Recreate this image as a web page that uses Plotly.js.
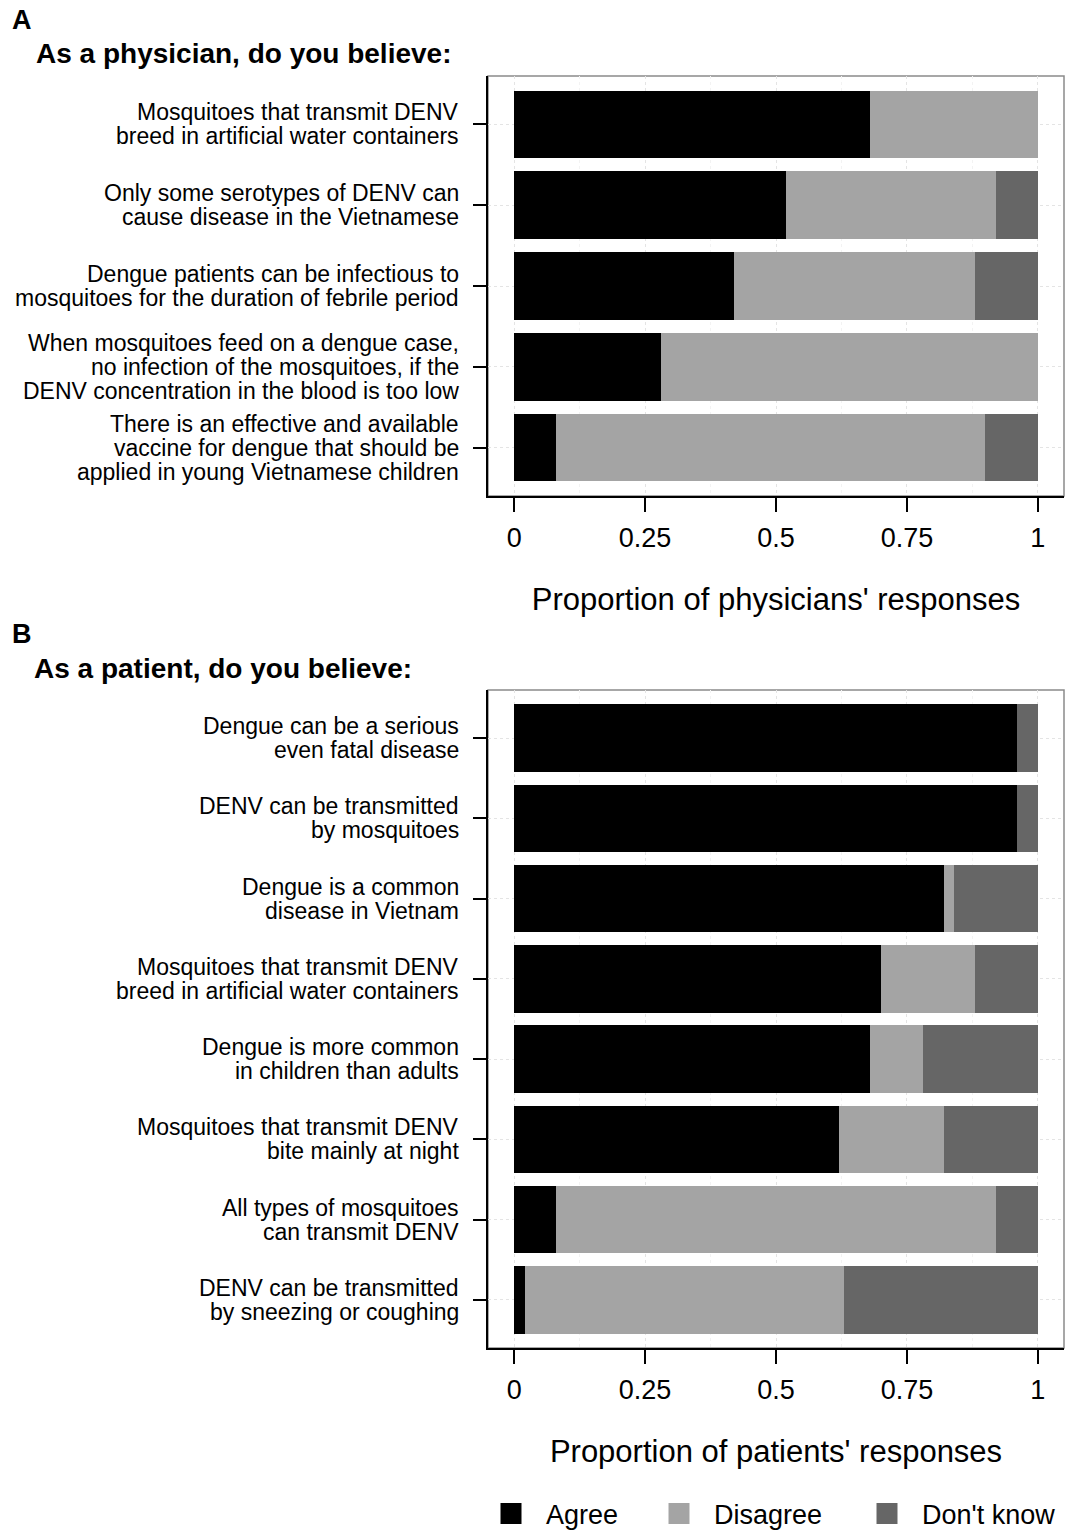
<!DOCTYPE html>
<html>
<head>
<meta charset="utf-8">
<script src="https://cdn.plot.ly/plotly-3.0.1.min.js"></script>
<style>
html,body{margin:0;padding:0;background:#fff;width:1069px;height:1534px;overflow:hidden;}
#chart{position:absolute;left:0;top:0;width:1069px;height:1534px;overflow:hidden;}
</style>
</head>
<body>
<div id="chart"></div>
<script>
// ---- Data ----
const physQuestions = [
  "Mosquitoes that transmit DENV<br>breed in artificial water containers",
  "Only some serotypes of DENV can<br>cause disease in the Vietnamese",
  "Dengue patients can be infectious to<br>mosquitoes for the duration of febrile period",
  "When mosquitoes feed on a dengue case,<br>no infection of the mosquitoes, if the<br>DENV concentration in the blood is too low",
  "There is an effective and available<br>vaccine for dengue that should be<br>applied in young Vietnamese children"
];
const physAgree    = [0.68, 0.52, 0.42, 0.28, 0.08];
const physDisagree = [0.32, 0.40, 0.46, 0.72, 0.82];
const physDontKnow = [0.00, 0.08, 0.12, 0.00, 0.10];

const patQuestions = [
  "Dengue can be a serious<br>even fatal disease",
  "DENV can be transmitted<br>by mosquitoes",
  "Dengue is a common<br>disease in Vietnam",
  "Mosquitoes that transmit DENV<br>breed in artificial water containers",
  "Dengue is more common<br>in children than adults",
  "Mosquitoes that transmit DENV<br>bite mainly at night",
  "All types of mosquitoes<br>can transmit DENV",
  "DENV can be transmitted<br>by sneezing or coughing"
];
const patAgree    = [0.96, 0.96, 0.82, 0.70, 0.68, 0.62, 0.08, 0.02];
const patDisagree = [0.00, 0.00, 0.02, 0.18, 0.10, 0.20, 0.84, 0.61];
const patDontKnow = [0.04, 0.04, 0.16, 0.12, 0.22, 0.18, 0.08, 0.37];

const responseNames = ["Agree", "Disagree", "Don't know"];
const responseColors = ["#000000", "#a4a4a4", "#666666"];
const xTickVals = [0, 0.25, 0.5, 0.75, 1];
const xTickText = ["0", "0.25", "0.5", "0.75", "1"];

// ---- Build ----
const W = 1069, H = 1534;
const px = v => v / W;
const py = v => 1 - v / H;
const FONT = "Liberation Sans, Arial, Helvetica, sans-serif";

const traces = [];
const physSeries = [physAgree, physDisagree, physDontKnow];
const patSeries = [patAgree, patDisagree, patDontKnow];
physSeries.forEach((vals, i) => {
  traces.push({type: "bar", orientation: "h", x: vals, y: physQuestions,
    xaxis: "x", yaxis: "y", width: 0.84, name: responseNames[i],
    marker: {color: responseColors[i], line: {width: 0}}, showlegend: false,
    hoverinfo: "x+name"});
});
patSeries.forEach((vals, i) => {
  traces.push({type: "bar", orientation: "h", x: vals, y: patQuestions,
    xaxis: "x2", yaxis: "y2", width: 0.84, name: responseNames[i],
    marker: {color: responseColors[i], line: {width: 0}}, showlegend: false,
    hoverinfo: "x+name"});
});
// legend entries (larger square symbols)
const legendIds = ["legend", "legend2", "legend3"];
responseNames.forEach((nm, i) => {
  traces.push({type: "scatter", mode: "markers", x: [null], y: [null],
    xaxis: "x2", yaxis: "y2", name: nm, legend: legendIds[i],
    marker: {symbol: "square", size: 16, color: responseColors[i],
      line: {width: 5, color: responseColors[i]}},
    showlegend: true, hoverinfo: "skip"});
});

function xAxis(domain, anchor, title) {
  return {
    domain: domain, anchor: anchor, range: [-0.05, 1.05],
    tickvals: xTickVals, ticktext: xTickText,
    ticks: "outside", ticklen: 14, tickwidth: 2, tickcolor: "#000",
    showline: true, linewidth: 2, linecolor: "#000",
    showgrid: true, gridcolor: "#e4e4e4", griddash: "dot", gridwidth: 1,
    minor: {tick0: 0, dtick: 0.125, showgrid: true, gridcolor: "#f3f3f3", gridwidth: 1},
    zeroline: false, fixedrange: true,
    tickfont: {size: 27, family: FONT, color: "#000"},
    ticklabelstandoff: 3,
    title: {text: title, font: {size: 31, family: FONT, color: "#000"}, standoff: 36}
  };
}
function yAxis(domain, anchor, cats) {
  const n = cats.length;
  return {
    domain: domain, anchor: anchor, type: "category",
    categoryarray: cats, categoryorder: "array",
    range: [n - 1 + 0.6, -0.6],
    ticks: "outside", ticklen: 13, tickwidth: 2, tickcolor: "#000",
    showline: true, linewidth: 2, linecolor: "#000",
    showgrid: true, gridcolor: "#e4e4e4", griddash: "dot", gridwidth: 1,
    zeroline: false, fixedrange: true,
    showticklabels: false
  };
}

// Category labels as right-aligned text lines next to each tick (tight line spacing)
const LINE_H = 24;
function labelAnnotations(cats, yref) {
  const out = [];
  cats.forEach(cat => {
    const lines = cat.split("<br>");
    lines.forEach((ln, k) => {
      out.push({text: ln, xref: "paper", yref: yref, x: px(460), y: cat,
        xanchor: "right", yanchor: "middle", showarrow: false,
        yshift: ((lines.length - 1) / 2 - k) * LINE_H,
        font: {size: 23, family: FONT, color: "#000"}, borderpad: 0});
    });
  });
  return out;
}

const xDom = [px(488), px(1064)];
const layout = {
  width: W, height: H,
  margin: {l: 0, r: 0, t: 0, b: 0, pad: 0, autoexpand: false},
  paper_bgcolor: "#fff", plot_bgcolor: "#fff",
  font: {family: FONT, color: "#000"},
  barmode: "stack",
  showlegend: true,
  xaxis: xAxis(xDom, "y", "Proportion of physicians' responses"),
  yaxis: yAxis([py(496), py(76)], "x", physQuestions),
  xaxis2: xAxis(xDom, "y2", "Proportion of patients' responses"),
  yaxis2: yAxis([py(1348), py(690)], "x2", patQuestions),
  shapes: [
    {type: "rect", xref: "x domain", yref: "y domain", x0: 0, x1: 1, y0: 0, y1: 1,
     line: {color: "#8a8a8a", width: 1.5}, layer: "below"},
    {type: "rect", xref: "x2 domain", yref: "y2 domain", x0: 0, x1: 1, y0: 0, y1: 1,
     line: {color: "#8a8a8a", width: 1.5}, layer: "below"}
  ],
  annotations: [
    {text: "<b>A</b>", xref: "paper", yref: "paper", x: px(10), y: py(20), xanchor: "left", yanchor: "middle",
     showarrow: false, font: {size: 27, family: FONT, color: "#000"}},
    {text: "<b>As a physician, do you believe:</b>", xref: "paper", yref: "paper", x: px(34), y: py(54),
     xanchor: "left", yanchor: "middle", showarrow: false, font: {size: 28, family: FONT, color: "#000"}},
    {text: "<b>B</b>", xref: "paper", yref: "paper", x: px(10), y: py(634), xanchor: "left", yanchor: "middle",
     showarrow: false, font: {size: 27, family: FONT, color: "#000"}},
    {text: "<b>As a patient, do you believe:</b>", xref: "paper", yref: "paper", x: px(32), y: py(668),
     xanchor: "left", yanchor: "middle", showarrow: false, font: {size: 28, family: FONT, color: "#000"}}
  ].concat(labelAnnotations(physQuestions, "y"), labelAnnotations(patQuestions, "y2"))
};
const legendBase = {orientation: "h", yanchor: "middle", xanchor: "left", y: py(1514),
  font: {size: 27, family: FONT, color: "#000"}, itemwidth: 60, bgcolor: "rgba(0,0,0,0)",
  borderwidth: 0, itemclick: false, itemdoubleclick: false};
layout.legend  = Object.assign({}, legendBase, {x: px(476)});
layout.legend2 = Object.assign({}, legendBase, {x: px(644)});
layout.legend3 = Object.assign({}, legendBase, {x: px(852)});

Plotly.newPlot("chart", traces, layout, {displayModeBar: false, staticPlot: true});
</script>
</body>
</html>
